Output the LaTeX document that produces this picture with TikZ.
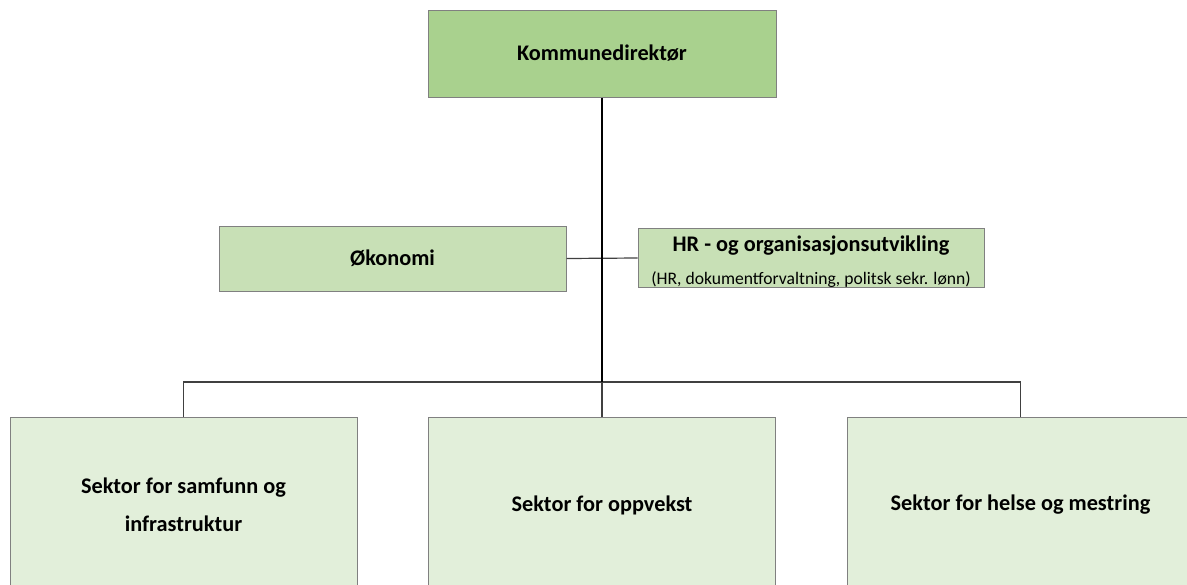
\documentclass[tikz,border=0pt]{standalone}
\usepackage{fontspec}
\setmainfont{Carlito}
\definecolor{topgreen}{HTML}{A9D18E}
\definecolor{midgreen}{HTML}{C8E0B6}
\definecolor{lowgreen}{HTML}{E2EFDA}
\definecolor{boxline}{HTML}{808080}
\definecolor{wire}{HTML}{404040}
\begin{document}
\begin{tikzpicture}
  [x=.5pt,y=-.5pt,
   box/.style={rectangle,draw=boxline,line width=.5pt,inner sep=0pt,align=center,
     font=\fontsize{11.15}{18}\selectfont\bfseries},
   sector/.style={box,fill=lowgreen,minimum width=173.5pt,minimum height=88pt}]
  \useasboundingbox (0,0) rectangle (1187,584);
  \clip (0,0) rectangle (1187,584);

  \node[box,fill=topgreen,minimum width=174pt,minimum height=43.5pt] (dir) at (602,53.5) {Kommunedirektør};

  \node[box,fill=midgreen,minimum width=173.5pt,minimum height=32.5pt] (oko) at (392.5,258.5) {Økonomi};
  \node[box,fill=midgreen,minimum width=173pt,minimum height=29pt] (hr) at (811,258)
    {\rule{0pt}{11.5pt}HR - og organisasjonsutvikling\\[-1.5pt]{\fontsize{8.8}{10}\selectfont\mdseries (HR, dokumentforvaltning, politsk sekr. lønn)}};

  \node[sector] (sam) at (183.5,505) {Sektor for samfunn og\\[1pt]infrastruktur};
  \node[sector] (opp) at (602,505) {Sektor for oppvekst};
  \node[sector] (hel) at (1020.5,505) {Sektor for helse og mestring};

  \coordinate (bus) at (602,382);

  \draw[line width=.8pt,wire] (sam.north) |- (bus) -| (hel.north);
  \draw[line width=.6pt,wire] (bus) -- (opp.north);
  \draw[line width=.6pt,wire] (oko.east) -- (hr.west);
  \draw[line width=1.3pt] (dir.south) -- (bus);
\end{tikzpicture}
\end{document}
